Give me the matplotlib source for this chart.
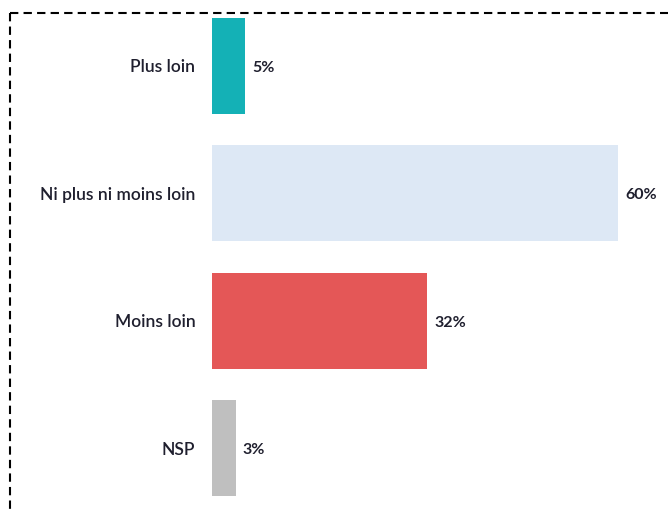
import matplotlib.pyplot as plt
from matplotlib.lines import Line2D

# Data
categories = ["Plus loin", "Ni plus ni moins loin", "Moins loin", "NSP"]
values = [4.9, 60, 31.8, 3.5]
value_labels = ["5%", "60%", "32%", "3%"]
colors = ["#14B1B6", "#DDE8F5", "#E45757", "#BFBFBF"]

plt.rcParams['font.family'] = ['Lato', 'DejaVu Sans']

W, H = 668, 509
fig = plt.figure(figsize=(W / 100, H / 100), dpi=100)

# axes placed so the bars sit where they do in the reference
left, right = 212, 659
top, bottom = 2, 512
ax = fig.add_axes([left / W, (H - bottom) / H, (right - left) / W, (bottom - top) / H])

y = list(range(len(categories)))
ax.barh(y, values, height=0.75, color=colors)
ax.set_xlim(0, 66)
ax.set_ylim(3.5, -0.5)

ax.set_yticks(y)
ax.set_yticklabels(categories, fontsize=12.5, fontweight="semibold", color="#1F1F2E")
ax.tick_params(axis="y", length=0, pad=12)
ax.set_xticks([])
for s in ax.spines.values():
    s.set_visible(False)

for yi, v, lab in zip(y, values, value_labels):
    ax.annotate(lab, (v, yi), xytext=(5, -1.5), textcoords="offset points",
                va="center", ha="left", fontsize=11.5, fontweight="bold", color="#1F1F2E")

# dashed frame (top and left edges visible, rest runs off the picture)
fy = 1 - 13 / H
fx = 10 / W
dash = (0, (4, 2.5))
fig.add_artist(Line2D([fx, 1.0], [fy, fy], transform=fig.transFigure,
                      color="black", lw=1.5, ls=dash))
fig.add_artist(Line2D([fx, fx], [fy, 0], transform=fig.transFigure,
                      color="black", lw=1.5, ls=dash))

fig.savefig("out.png", dpi=100)
